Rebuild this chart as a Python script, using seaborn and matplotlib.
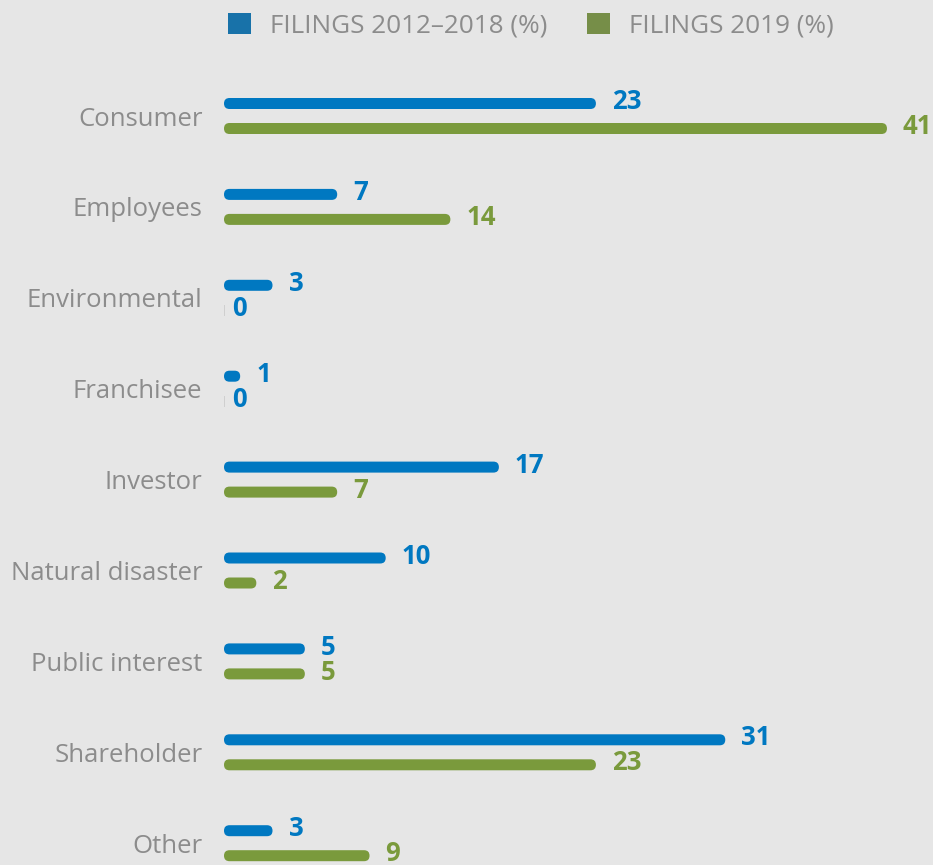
import matplotlib
matplotlib.use("Agg")
import matplotlib.pyplot as plt
import seaborn as sns
import pandas as pd
from matplotlib.patches import FancyBboxPatch

categories = ["Consumer", "Employees", "Environmental", "Franchisee", "Investor",
              "Natural disaster", "Public interest", "Shareholder", "Other"]
series_names = ["FILINGS 2012\u20132018 (%)", "FILINGS 2019 (%)"]
filings_2012_2018 = [23, 7, 3, 1, 17, 10, 5, 31, 3]
filings_2019 = [41, 14, 0, 0, 7, 2, 5, 23, 9]

BLUE = "#0078c1"
GREEN = "#7a9a3c"
GRAY = "#8c8c8c"
BG = "#e6e6e6"

df = pd.DataFrame({
    "category": categories * 2,
    "series": [series_names[0]] * len(categories) + [series_names[1]] * len(categories),
    "value": filings_2012_2018 + filings_2019,
})

sns.set_theme(style="white")
plt.rcParams["font.family"] = ["Open Sans", "DejaVu Sans"]

W, H = 933, 865
fig = plt.figure(figsize=(W / 100, H / 100), dpi=100, facecolor=BG)
x0_px, px_per_unit_x = 224, 16.17
y_top_px = 60
px_per_unit_y = 90.9
center0_px = 116
xmax = (W - x0_px) / px_per_unit_x
ax = fig.add_axes([x0_px / W, 0, 1 - x0_px / W, (H - y_top_px) / H])
ax.set_facecolor(BG)

sns.barplot(data=df, y="category", x="value", hue="series", orient="h",
            palette=[BLUE, GREEN], width=0.55, gap=0.56, ax=ax, legend=True,
            order=categories, hue_order=series_names)

ax.set_xlim(0, xmax)
ax.set_ylim((H - center0_px) / px_per_unit_y, (y_top_px - center0_px) / px_per_unit_y)

aspect = px_per_unit_x / px_per_unit_y
for cont, color in zip(ax.containers, [BLUE, GREEN]):
    for rect in list(cont.patches):
        x, y, w, h = rect.get_x(), rect.get_y(), rect.get_width(), rect.get_height()
        rect.set_visible(False)
        if w > 0:
            r = (h / aspect) / 2
            p = FancyBboxPatch((x, y), w, h,
                               boxstyle=f"round,pad=0,rounding_size={r}",
                               mutation_aspect=aspect, facecolor=color,
                               edgecolor="none")
        else:
            p = FancyBboxPatch((x, y), 0.04, h, boxstyle="square,pad=0",
                               facecolor="#cfcfcf", edgecolor="none")
        ax.add_patch(p)

for i, cat in enumerate(categories):
    for j, (vals, color) in enumerate([(filings_2012_2018, BLUE), (filings_2019, GREEN)]):
        v = vals[i]
        yc = i + (-0.1375 if j == 0 else 0.1375)
        off = 16 / px_per_unit_x if v > 0 else 8 / px_per_unit_x
        ax.text(v + off, yc - 0.02, str(v), color=color if v > 0 else BLUE,
                fontsize=18.5, fontweight="bold", va="center", ha="left")

ax.set_xlabel("")
ax.set_ylabel("")
ax.set_xticks([])
ax.tick_params(axis="y", length=0, pad=15.5, labelsize=18.5, labelcolor=GRAY)
for s in ax.spines.values():
    s.set_visible(False)

for h in ax.get_legend().legend_handles:
    h.set_edgecolor("none")

sns.move_legend(ax, "upper left", bbox_to_anchor=(228 / W, 1 - 13 / H),
                bbox_transform=fig.transFigure, ncol=2, frameon=False, title=None,
                fontsize=18.8, handlelength=0.88, handleheight=0.88,
                handletextpad=0.73, columnspacing=1.5, labelcolor=GRAY,
                borderpad=0, borderaxespad=0)

fig.savefig("out.png", dpi=100, facecolor=BG)
